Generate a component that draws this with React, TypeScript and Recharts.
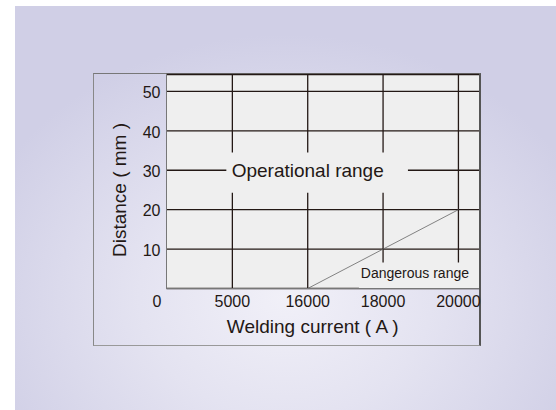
import {
  LineChart,
  Line,
  XAxis,
  YAxis,
  CartesianGrid,
  ReferenceLine,
  ReferenceArea,
  ReferenceDot,
} from "recharts";

// axis values
const currents = [0, 5000, 16000, 18000, 20000];
const distanceTicks = [10, 20, 30, 40, 50];

// border of the dangerous range
const boundaryCurrents = [16000, 18000, 20000];
const boundaryDistances = [0, 10, 20];

const INK = "#231815";
const PLOT_BG = "#efefef";
const FONT = "'Liberation Sans', Arial, sans-serif";

// x axis is an evenly spaced index over the current labels
const X_MIN = 0.126;
const X_MAX = 4.273;
const Y_MAX = 54.3;

const boundary = boundaryCurrents.map((c, i) => ({
  x: currents.indexOf(c),
  y: boundaryDistances[i],
}));

export default function App() {
  return (
    <div
      style={{
        position: "absolute",
        left: 0,
        top: 0,
        width: 556,
        height: 410,
        background: "#fff",
        fontFamily: FONT,
      }}
    >
      <div
        style={{
          position: "absolute",
          left: 15,
          top: 6,
          width: 541,
          height: 404,
          background:
            "radial-gradient(ellipse 60% 65% at 50% 72%, #f1f0f8 0%, #e4e3f1 45%, #d0cfe6 100%)",
        }}
      />
      <div
        style={{
          position: "absolute",
          left: 93,
          top: 73,
          width: 385,
          height: 271,
          borderTop: "1.5px solid #777",
          borderRight: "2px solid #555",
          borderBottom: "1px solid #999",
          borderLeft: "1.5px solid #888",
        }}
      />
      <div style={{ position: "absolute", left: 0, top: 0 }}>
        <LineChart
          width={556}
          height={410}
          data={boundary}
          margin={{ top: 74.5, right: 77, bottom: 65.5, left: 0 }}
          style={{ fontFamily: FONT }}
        >
          <CartesianGrid
            vertical={false}
            fill={PLOT_BG}
            fillOpacity={1}
            stroke={INK}
            strokeWidth={1.3}
            strokeOpacity={1}
          />
          <XAxis
            type="number"
            dataKey="x"
            domain={[X_MIN, X_MAX]}
            allowDataOverflow
            ticks={currents.map((_, i) => i)}
            interval={0}
            tickFormatter={(v: number) => String(currents[v])}
            height={56}
            axisLine={{ stroke: "#777", strokeWidth: 1 }}
            tickLine={false}
            tickSize={0}
            tickMargin={7}
            tick={{ fill: INK, fontSize: 16 }}
            label={{
              value: "Welding current ( A )",
              position: "insideBottom",
              offset: 12,
              dx: -10,
              fill: INK,
              fontSize: 19,
            }}
          />
          <YAxis
            type="number"
            domain={[0, Y_MAX]}
            allowDataOverflow
            ticks={distanceTicks}
            interval={0}
            width={166.5}
            axisLine={{ stroke: "#777", strokeWidth: 1 }}
            tickLine={false}
            tickSize={0}
            tickMargin={6}
            tick={{ fill: INK, fontSize: 16, dy: 1 }}
            label={{
              content: () => (
                <text
                  x={126}
                  y={190}
                  transform="rotate(-90 126 190)"
                  textAnchor="middle"
                  fill={INK}
                  fontSize={19}
                  fontFamily={FONT}
                >
                  Distance ( mm )
                </text>
              ),
            }}
          />
          {currents.slice(1).map((c) => (
            <ReferenceLine
              key={c}
              x={currents.indexOf(c)}
              stroke={INK}
              strokeWidth={1.3}
              zIndex={1}
            />
          ))}
          <ReferenceArea
            x1={0.92}
            x2={3.33}
            y1={24.3}
            y2={34.5}
            fill={PLOT_BG}
            fillOpacity={1}
            stroke="none"
            zIndex={2}
          />
          <ReferenceArea
            x1={2.68}
            x2={X_MAX}
            y1={0}
            y2={6.6}
            fill={PLOT_BG}
            fillOpacity={1}
            stroke="none"
            zIndex={2}
            label={{
              value: "Dangerous range",
              position: "insideRight",
              offset: 10,
              dy: -2,
              fill: INK,
              fontSize: 14,
            }}
          />
          <Line
            type="linear"
            dataKey="y"
            stroke="#666"
            strokeWidth={0.8}
            dot={false}
            activeDot={false}
            isAnimationActive={false}
            zIndex={3}
          />
          <ReferenceDot
            x={2}
            y={30}
            r={0}
            fill="none"
            stroke="none"
            zIndex={4}
            label={{
              value: "Operational range",
              position: "center",
              fill: INK,
              fontSize: 19,
            }}
          />
        </LineChart>
      </div>
    </div>
  );
}
